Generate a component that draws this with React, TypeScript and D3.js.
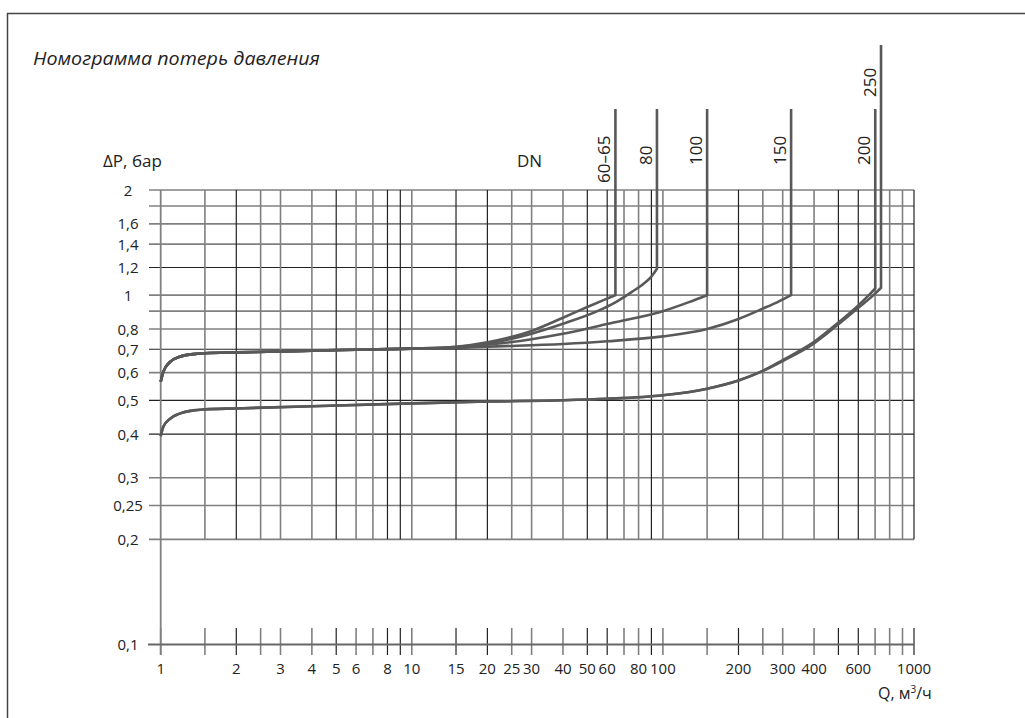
import React from 'react';
import * as d3 from 'd3';

// ---------- data ----------
const Q_GRID = [1, 1.5, 2, 2.5, 3, 4, 5, 6, 7, 8, 9, 10, 15, 20, 25, 30, 40, 50, 60, 70, 80, 90, 100, 150, 200, 250, 300, 400, 500, 600, 700, 800, 900, 1000];
const Q_TICK_LABELS = [1, 2, 3, 4, 5, 6, 8, 10, 15, 20, 25, 30, 40, 50, 60, 80, 100, 200, 300, 400, 600, 1000];
const DP_GRID = [2, 1.8, 1.6, 1.4, 1.2, 1, 0.9, 0.8, 0.7, 0.6, 0.5, 0.4, 0.3, 0.25, 0.2];
const DP_TICK_LABELS = [2, 1.6, 1.4, 1.2, 1, 0.8, 0.7, 0.6, 0.5, 0.4, 0.3, 0.25, 0.2, 0.1];

const DN_NAMES = ['60–65', '80', '100', '150', '200', '250'];
const DN_FLOW = [64.7, 94.7, 150, 324, 701, 739];

// shared start of the upper family (DN 60–150)
const UPPER_START: [number, number][] = [
  [1, 0.565], [1.024, 0.603], [1.09, 0.644], [1.19, 0.666], [1.35, 0.678], [1.5, 0.682],
  [2, 0.686], [3, 0.69], [4, 0.694], [6, 0.698], [10, 0.703],
];
const DN65_TAIL: [number, number][] = [[15, 0.712], [20, 0.733], [30, 0.79], [40, 0.862], [50, 0.925], [58, 0.968], [64.7, 1.0]];
const DN80_TAIL: [number, number][] = [[15, 0.71], [20, 0.727], [30, 0.776], [40, 0.828], [56, 0.906], [66, 0.962], [75, 1.02], [84, 1.08], [90, 1.13], [94.7, 1.19]];
const DN100_TAIL: [number, number][] = [[15, 0.708], [20, 0.721], [30, 0.748], [40, 0.775], [63.6, 0.835], [100, 0.9], [127, 0.955], [150, 1.0]];
const DN150_TAIL: [number, number][] = [[15, 0.706], [20, 0.712], [40, 0.725], [60, 0.738], [100, 0.762], [150, 0.8], [200, 0.855], [250, 0.915], [290, 0.96], [324, 1.0]];

// shared start of the lower family (DN 200–250)
const LOWER_START: [number, number][] = [
  [1, 0.395], [1.024, 0.42], [1.09, 0.443], [1.19, 0.458], [1.35, 0.468], [1.5, 0.471],
  [2, 0.474], [4, 0.481], [10, 0.49], [20, 0.496], [40, 0.5], [60, 0.505], [100, 0.517],
  [150, 0.54], [200, 0.57], [250, 0.607],
];
const DN200_TAIL: [number, number][] = [[300, 0.652], [400, 0.735], [500, 0.835], [600, 0.935], [670, 1.01], [701, 1.045]];
const DN250_TAIL: [number, number][] = [[300, 0.648], [400, 0.728], [500, 0.825], [600, 0.92], [700, 1.01], [739, 1.05]];

const SERIES: [number, number][][] = [
  [...UPPER_START, ...DN65_TAIL],
  [...UPPER_START, ...DN80_TAIL],
  [...UPPER_START, ...DN100_TAIL],
  [...UPPER_START, ...DN150_TAIL],
  [...LOWER_START, ...DN200_TAIL],
  [...LOWER_START, ...DN250_TAIL],
];

// ---------- styles ----------
const DARK_Q = new Set([2, 5, 8, 9, 15, 20, 50, 60, 90, 200, 500, 600, 1000]);
const DARK_DP = new Set([1.2, 0.7, 0.5, 0.4]);
const FONT = '"Open Sans", "DejaVu Sans", sans-serif';
const CURVE = '#595959';

const fmt = (v: number) => String(v).replace('.', ',');

export default function App() {
  const x = d3.scaleLog().domain([1, 1000]).range([160.7, 914]);
  const y = d3.scaleLog().domain([0.1, 2]).range([644.5, 190]);
  const gridLeft = 149;
  const gridRight = x(1000);
  const gridTop = y(2);
  const gridBottom = y(0.2);
  const axisY = y(0.1);
  const tickTop = 628;
  const tickBottom = 655;

  const line = d3
    .line<[number, number]>()
    .x((d) => x(d[0]))
    .y((d) => y(d[1]))
    .curve(d3.curveMonotoneX);

  const dnTop = (i: number) => (i === 5 ? 45 : 109);
  const dnLabelY = (i: number) => (i === 0 ? 183 : i === 5 ? 97 : 165);

  return (
    <svg
      width={1025}
      height={718}
      style={{ position: 'absolute', left: 0, top: 0, background: '#fff' }}
      fontFamily={FONT}
    >
      <rect x={0} y={0} width={1025} height={718} fill="#fff" />
      {/* frame */}
      <path d="M7.5,720 V13.5 H1030" fill="none" stroke="#444" strokeWidth={1.5} />

      {/* title */}
      <text
        x={33}
        y={65}
        fontSize={19}
        fontStyle="italic"
        fill="#222"
        textLength={287}
        lengthAdjust="spacingAndGlyphs"
      >
        Номограмма потерь давления
      </text>

      {/* horizontal grid */}
      {DP_GRID.map((v) => (
        <line
          key={'h' + v}
          x1={gridLeft}
          x2={gridRight}
          y1={y(v)}
          y2={y(v)}
          stroke={DARK_DP.has(v) ? '#222' : '#808080'}
          strokeWidth={DARK_DP.has(v) ? 1.2 : 1.6}
        />
      ))}

      {/* vertical grid */}
      {Q_GRID.map((q) => (
        <g key={'v' + q}>
          <line
            x1={x(q)}
            x2={x(q)}
            y1={gridTop}
            y2={q === 1 ? tickBottom : gridBottom}
            stroke={DARK_Q.has(q) ? '#222' : '#808080'}
            strokeWidth={q === 1 ? 1.8 : DARK_Q.has(q) ? 1.2 : 1.6}
          />
          <line
            x1={x(q)}
            x2={x(q)}
            y1={tickTop}
            y2={tickBottom}
            stroke={DARK_Q.has(q) ? '#222' : '#808080'}
            strokeWidth={DARK_Q.has(q) ? 1.2 : 1.6}
          />
        </g>
      ))}

      {/* x axis line */}
      <line x1={148} x2={gridRight} y1={axisY} y2={axisY} stroke="#666" strokeWidth={2} />

      {/* y tick labels */}
      {DP_TICK_LABELS.map((v) => (
        <text key={'yl' + v} x={128} y={y(v) + 5.5} fontSize={15} textAnchor="middle" fill="#222">
          {fmt(v)}
        </text>
      ))}

      {/* x tick labels */}
      {Q_TICK_LABELS.map((q) => (
        <text key={'xl' + q} x={x(q)} y={674} fontSize={15} textAnchor="middle" fill="#222">
          {fmt(q)}
        </text>
      ))}

      {/* axis titles */}
      <text x={103} y={167} fontSize={17} fill="#222">ΔP, бар</text>
      <text x={517} y={167} fontSize={17} fill="#222">DN</text>
      <text x={878} y={699} fontSize={16} fill="#222">
        Q, м<tspan dy={-6} fontSize={10}>3</tspan>
        <tspan dy={6}>/ч</tspan>
      </text>

      {/* curves with DN verticals */}
      {SERIES.map((pts, i) => (
        <path
          key={'s' + i}
          d={(line(pts) as string) + `L${x(DN_FLOW[i])},${dnTop(i)}`}
          fill="none"
          stroke={CURVE}
          strokeWidth={2.6}
          strokeLinejoin="miter"
        />
      ))}

      {/* DN labels */}
      {DN_NAMES.map((n, i) => (
        <text
          key={'dn' + n}
          transform={`translate(${x(DN_FLOW[i]) - 5},${dnLabelY(i)}) rotate(-90)`}
          fontSize={17}
          fill="#222"
        >
          {n}
        </text>
      ))}
    </svg>
  );
}
